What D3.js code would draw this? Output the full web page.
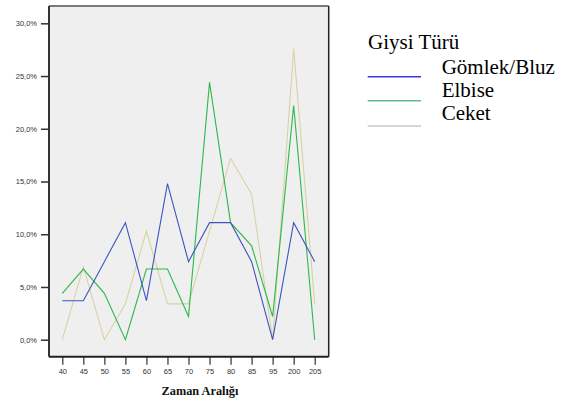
<!DOCTYPE html>
<html><head><meta charset="utf-8">
<script src="https://cdn.jsdelivr.net/npm/d3@7"></script>
<style>body{margin:0;background:#fff;}svg{display:block;}</style>
</head><body>
<svg id="c" width="577" height="403"></svg>
<script>
const categories = ["40","45","50","55","60","65","70","75","80","85","95","200","205"];
const gomlek = [3.7,3.7,7.4,11.1,3.7,14.8,7.4,11.1,11.1,7.4,0,11.1,7.4];
const elbise = [4.4,6.7,4.4,0,6.7,6.7,2.2,24.4,11.1,8.9,2.2,22.2,0];
const ceket  = [0,6.9,0,3.4,10.3,3.4,3.4,10.3,17.2,13.8,0,27.6,3.4];
const yTicks = [0,5,10,15,20,25,30];
const seriesNames = ["Gömlek/Bluz","Elbise","Ceket"];
const lineColors = ["#3c55c0","#2cb84c","#d9d2a2"];
const legendColors = ["#3a3ae0","#5fbf8c","#c9c9c9"];

const svg = d3.select("#c");
const L=49, R=328.7, T=6, B=356.7;
const x = d3.scalePoint().domain(categories).range([62.3,314.7]);
const y = d3.scaleLinear().domain([0,30]).range([339.7,23.3]);

svg.append("rect").attr("x",L).attr("y",T).attr("width",R-L).attr("height",B-T).attr("fill","#efefef");

const fmt = d => d.toFixed(1).replace(".",",")+"%";
const ya = svg.append("g").attr("transform",`translate(${L},0)`)
  .call(d3.axisLeft(y).tickValues(yTicks).tickFormat(fmt).tickSize(8).tickPadding(4));
ya.select(".domain").remove();
ya.selectAll(".tick line").attr("stroke","#333").attr("stroke-width",1.5);
ya.selectAll(".tick text").attr("fill","#333").style("font-family","Arial, 'Liberation Sans', sans-serif").style("font-size","7.5px");

const xa = svg.append("g").attr("transform",`translate(0,${B})`)
  .call(d3.axisBottom(x).tickSize(8).tickPadding(4));
xa.select(".domain").remove();
xa.selectAll(".tick line").attr("stroke","#333").attr("stroke-width",1.2);
xa.selectAll(".tick text").attr("fill","#333").style("font-family","Arial, 'Liberation Sans', sans-serif").style("font-size","7.5px");

// frame
svg.append("line").attr("x1",L).attr("x2",R).attr("y1",T).attr("y2",T).attr("stroke","#7a7a7a").attr("stroke-width",2);
svg.append("line").attr("x1",L).attr("x2",L).attr("y1",T).attr("y2",B).attr("stroke","#333").attr("stroke-width",2);
svg.append("line").attr("x1",R).attr("x2",R).attr("y1",T).attr("y2",B).attr("stroke","#222").attr("stroke-width",1.5);
svg.append("line").attr("x1",L).attr("x2",R).attr("y1",B).attr("y2",B).attr("stroke","#222").attr("stroke-width",2);

const line = d3.line().x((d,i)=>x(categories[i])).y(d=>y(d));
const data = [ceket, elbise, gomlek];
const cols = [lineColors[2], lineColors[1], lineColors[0]];
data.forEach((s,k)=>{
  svg.append("path").datum(s).attr("d",line).attr("fill","none").attr("stroke",cols[k]).attr("stroke-width",1.1);
});

svg.append("text").attr("x",200).attr("y",395).attr("text-anchor","middle")
  .style("font-family","'Liberation Serif','Times New Roman',serif").style("font-weight","bold").style("font-size","12.3px")
  .attr("fill","#111").text("Zaman Aralığı");

// legend
const lg = svg.append("g");
lg.append("text").attr("x",368).attr("y",48.5).style("font-family","'Liberation Serif','Times New Roman',serif")
  .style("font-size","21px").attr("fill","#000").text("Giysi Türü");
seriesNames.forEach((n,i)=>{
  const ly = [76.7,100.7,126][i];
  const ty = [73.5,96.5,120][i];
  lg.append("line").attr("x1",367.7).attr("x2",421).attr("y1",ly).attr("y2",ly).attr("stroke",legendColors[i]).attr("stroke-width",1.5);
  lg.append("text").attr("x",441.7).attr("y",ty).style("font-family","'Liberation Serif','Times New Roman',serif")
    .style("font-size","21px").attr("fill","#000").text(n);
});
</script>
</body></html>
